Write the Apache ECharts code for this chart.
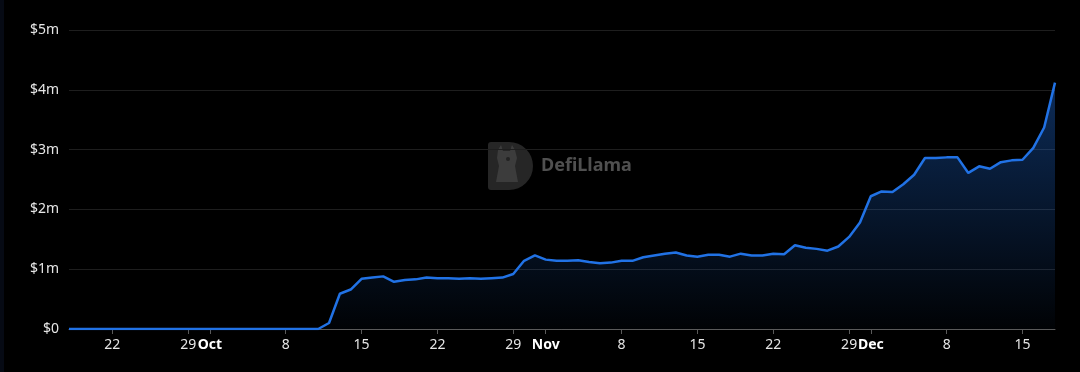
<!DOCTYPE html>
<html>
<head>
<meta charset="utf-8">
<script src="https://cdn.jsdelivr.net/npm/echarts@6/dist/echarts.min.js"></script>
<style>
html,body{margin:0;padding:0;background:#000;}
#chart{width:1080px;height:372px;}
</style>
</head>
<body>
<div id="chart"></div>
<script>
const dates = [
  "2023-09-18","2023-09-19","2023-09-20","2023-09-21","2023-09-22","2023-09-23","2023-09-24","2023-09-25","2023-09-26","2023-09-27","2023-09-28","2023-09-29","2023-09-30",
  "2023-10-01","2023-10-02","2023-10-03","2023-10-04","2023-10-05","2023-10-06","2023-10-07","2023-10-08","2023-10-09","2023-10-10","2023-10-11","2023-10-12","2023-10-13","2023-10-14","2023-10-15","2023-10-16","2023-10-17","2023-10-18","2023-10-19","2023-10-20","2023-10-21","2023-10-22","2023-10-23","2023-10-24","2023-10-25","2023-10-26","2023-10-27","2023-10-28","2023-10-29","2023-10-30","2023-10-31",
  "2023-11-01","2023-11-02","2023-11-03","2023-11-04","2023-11-05","2023-11-06","2023-11-07","2023-11-08","2023-11-09","2023-11-10","2023-11-11","2023-11-12","2023-11-13","2023-11-14","2023-11-15","2023-11-16","2023-11-17","2023-11-18","2023-11-19","2023-11-20","2023-11-21","2023-11-22","2023-11-23","2023-11-24","2023-11-25","2023-11-26","2023-11-27","2023-11-28","2023-11-29","2023-11-30",
  "2023-12-01","2023-12-02","2023-12-03","2023-12-04","2023-12-05","2023-12-06","2023-12-07","2023-12-08","2023-12-09","2023-12-10","2023-12-11","2023-12-12","2023-12-13","2023-12-14","2023-12-15","2023-12-16","2023-12-17","2023-12-18"
];
// values in $ millions
const valuesM = [
  0,0,0,0,0,0,0,0,0,0,0,0,0,
  0,0,0,0,0,0,0,0,0,0,0,0.10,0.59,0.66,0.84,0.86,0.88,0.79,0.82,0.83,0.86,0.85,0.85,0.84,0.85,0.84,0.85,0.86,0.92,1.14,1.23,
  1.16,1.14,1.14,1.15,1.12,1.10,1.11,1.14,1.14,1.20,1.23,1.26,1.28,1.23,1.21,1.24,1.24,1.21,1.26,1.23,1.23,1.26,1.25,1.40,1.36,1.34,1.31,1.38,1.54,1.78,
  2.22,2.30,2.29,2.42,2.58,2.86,2.86,2.87,2.87,2.61,2.72,2.68,2.79,2.82,2.83,3.03,3.37,4.12
];
// x-axis tick dates (label: day number, or bold month name on the 1st)
const tickDates = [
  "2023-09-22","2023-09-29","2023-10-01","2023-10-08","2023-10-15","2023-10-22","2023-10-29",
  "2023-11-01","2023-11-08","2023-11-15","2023-11-22","2023-11-29","2023-12-01","2023-12-08","2023-12-15"
];
const monthNames = ["Jan","Feb","Mar","Apr","May","Jun","Jul","Aug","Sep","Oct","Nov","Dec"];
const yMax = 5000000;
const yStep = 1000000;

const toTs = d => Date.parse(d + 'T00:00:00Z');
const seriesData = dates.map((d, i) => [toTs(d), valuesM[i] * 1000000]);
const tickValues = tickDates.map(toTs);

const chart = echarts.init(document.getElementById('chart'), null, {renderer: 'canvas'});
const fontFam = '"Noto Sans", "DejaVu Sans", sans-serif';
chart.setOption({
  backgroundColor: '#000000',
  animation: false,
  grid: {left: 69, right: 25, top: 30, bottom: 43},
  graphic: [
    {type: 'rect', left: 0, top: 0, shape: {width: 4, height: 372}, style: {fill: '#060a14'}, z: 0},
    {
      type: 'group', left: 488, top: 142, z: 0,
      children: [
        {type: 'rect', shape: {x: 0, y: 0, width: 45, height: 48, r: [3, 24, 24, 3]}, style: {fill: '#262626'}},
        {type: 'polygon', shape: {points: [[10,8],[13,3],[15,9],[22,9],[24,3],[27,8],[29,16],[27,24],[30,40],[8,40],[11,24],[9,16]]}, style: {fill: '#3c3c3c'}},
        {type: 'circle', shape: {cx: 20, cy: 17, r: 2}, style: {fill: '#222222'}}
      ]
    },
    {type: 'text', left: 541, top: 157, z: 0, style: {text: 'DefiLlama', fill: '#505050', font: 'bold 18px ' + fontFam}}
  ],
  xAxis: {
    type: 'value',
    min: 'dataMin',
    max: 'dataMax',
    axisLine: {show: true, lineStyle: {color: '#5a5a5a', width: 1}},
    axisTick: {show: true, length: 5, lineStyle: {color: '#5a5a5a'}, customValues: tickValues},
    splitLine: {show: false},
    axisLabel: {
      customValues: tickValues,
      showMinLabel: true,
      showMaxLabel: true,
      color: '#e6e6e6',
      fontSize: 14,
      fontFamily: fontFam,
      margin: 9,
      hideOverlap: false,
      formatter: function (value) {
        const d = new Date(value);
        if (d.getUTCDate() === 1) return '{b|' + monthNames[d.getUTCMonth()] + '}';
        return String(d.getUTCDate());
      },
      rich: {b: {fontWeight: 'bold', fontSize: 14, color: '#ffffff', fontFamily: fontFam}}
    }
  },
  yAxis: {
    type: 'value',
    min: 0,
    max: yMax,
    interval: yStep,
    axisLine: {show: false},
    axisTick: {show: false},
    splitLine: {show: true, lineStyle: {color: '#1e1e1e', width: 1}},
    axisLabel: {
      color: '#e6e6e6',
      fontSize: 14,
      fontFamily: fontFam,
      margin: 10,
      formatter: function (v) { return v === 0 ? '$0' : '$' + (v / 1000000) + 'm'; }
    }
  },
  series: [{
    type: 'line',
    data: seriesData,
    showSymbol: false,
    symbol: 'none',
    lineStyle: {color: '#2172E5', width: 2.5},
    itemStyle: {color: '#2172E5'},
    areaStyle: {
      color: {
        type: 'linear', x: 0, y: 0, x2: 0, y2: 1,
        colorStops: [
          {offset: 0, color: 'rgba(33,114,229,0.55)'},
          {offset: 1, color: 'rgba(33,114,229,0.03)'}
        ]
      }
    },
    z: 3
  }]
});
</script>
</body>
</html>
